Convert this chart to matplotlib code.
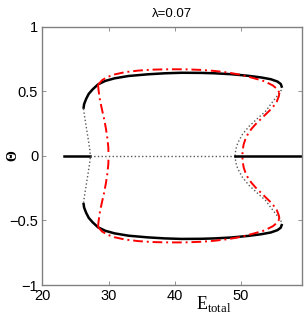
import matplotlib
matplotlib.use("Agg")
import matplotlib.pyplot as plt
import numpy as np

# Upper halves of the branches (the figure is symmetric in Theta)
black_solid_E = [26.2, 26.3, 26.6, 27.0, 27.6, 28.4, 29.5, 30.9, 33.0, 35.9, 38.5, 41.0,
                 44.0, 46.0, 48.5, 51.0, 53.0, 54.5, 55.5, 56.0, 56.2]
black_solid_T = [0.364, 0.40, 0.44, 0.48, 0.515, 0.553, 0.58, 0.600, 0.618, 0.631, 0.639, 0.643,
                 0.642, 0.639, 0.632, 0.620, 0.607, 0.593, 0.575, 0.556, 0.527]

red_top_E = [28.4, 29.0, 29.8, 30.9, 32.5, 34.5, 36.5, 39.0, 41.5, 44.0, 46.0, 48.0,
             50.0, 52.0, 53.5, 54.8, 55.5, 55.8]
red_top_T = [0.55, 0.585, 0.61, 0.63, 0.648, 0.66, 0.667, 0.67, 0.67, 0.665, 0.657, 0.645,
             0.627, 0.60, 0.578, 0.545, 0.515, 0.488]
red_right_E = [55.8, 55.7, 55.4, 54.9, 54.3, 53.6, 52.9, 52.2, 51.6, 51.1, 50.7, 50.4, 50.25, 50.2]
red_right_T = [0.488, 0.46, 0.42, 0.384, 0.35, 0.315, 0.28, 0.245, 0.21, 0.175, 0.135, 0.09, 0.045, 0.0]
red_left_E = [28.4, 28.5, 28.7, 29.0, 29.3, 29.6, 29.8, 29.95, 30.0]
red_left_T = [0.55, 0.50, 0.43, 0.358, 0.29, 0.21, 0.14, 0.07, 0.0]

dot_left_E = [26.2, 26.45, 26.7, 26.95, 27.15, 27.25]
dot_left_T = [0.364, 0.28, 0.2, 0.12, 0.05, 0.0]
dot_right_E = [56.1, 55.4, 54.5, 53.7, 52.5, 51.2, 50.2, 49.5, 49.2, 49.1]
dot_right_T = [0.51, 0.46, 0.40, 0.345, 0.29, 0.228, 0.165, 0.099, 0.05, 0.0]

# trivial branch Theta = 0
flat_solid_left = [23.3, 27.25]
flat_dotted = [27.25, 49.1]
flat_solid_right = [49.1, 59.5]

xticks = [20, 30, 40, 50]
yticks = [-1, -0.5, 0, 0.5, 1]
ytick_labels = ["\u22121", "\u22120.5", "0", "0.5", "1"]

plt.rcParams['font.family'] = ['Liberation Sans', 'DejaVu Sans']
plt.rcParams['mathtext.fontset'] = 'custom'
plt.rcParams['mathtext.rm'] = 'Liberation Serif'

fig = plt.figure(figsize=(3.05, 3.21), dpi=100)
ax = fig.add_axes([0.139, 0.112, 0.851, 0.805])

for sgn in (1, -1):
    ax.plot(black_solid_E, sgn * np.array(black_solid_T), color='k', lw=1.8, solid_capstyle='butt')
    ax.plot(dot_left_E, sgn * np.array(dot_left_T), color='0.35', lw=1.0, ls=':')
    ax.plot(dot_right_E, sgn * np.array(dot_right_T), color='0.35', lw=1.0, ls=':')
    for e, t in ((red_top_E, red_top_T), (red_right_E, red_right_T), (red_left_E, red_left_T)):
        ax.plot(e, sgn * np.array(t), color='red', lw=1.4, ls='-.', dashes=(5, 2, 1, 2))

ax.plot(flat_solid_left, [0, 0], color='k', lw=1.8)
ax.plot(flat_dotted, [0, 0], color='0.35', lw=1.0, ls=':')
ax.plot(flat_solid_right, [0, 0], color='k', lw=1.8)

ax.set_xlim(20, 59.2)
ax.set_ylim(-1, 1)
ax.set_xticks(xticks)
ax.set_yticks(yticks)
ax.set_yticklabels(ytick_labels)
ax.tick_params(direction='in', top=True, right=True, length=3, width=0.6,
               color='0.5', labelsize=10.5, pad=3)
for sp in ax.spines.values():
    sp.set_color('0.5')
    sp.set_linewidth(1.0)

ax.set_title('\u03bb=0.07', fontsize=9.5, pad=7)
ax.set_xlabel(r'$\mathrm{E}_{\mathrm{total}}$', fontsize=13)
ax.xaxis.set_label_coords(0.66, -0.035, transform=ax.transAxes)
ax.xaxis.label.set_va('top')
ax.set_ylabel('\u0398', fontsize=10, family='Liberation Serif', fontweight='bold')
ax.yaxis.set_label_coords(-0.09, 0.5)

fig.savefig('out.png', dpi=100)
